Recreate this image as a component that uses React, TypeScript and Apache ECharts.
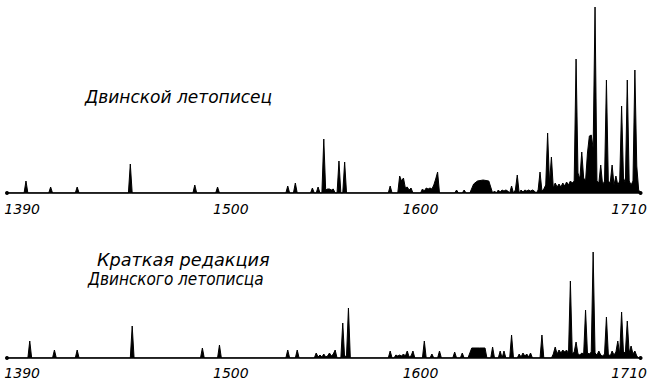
import React, { useEffect, useRef } from "react";
import * as echarts from "echarts";

// Верхняя кривая: Двинской летописец (год, число записей — в условных единицах)
const topYears = [
  1382, 1391, 1392, 1393, 1404, 1405, 1406, 1418, 1419, 1420, 1446, 1447, 1448,
  1480, 1481, 1482, 1492, 1493, 1494, 1529, 1530, 1531, 1533, 1534, 1535,
  1542, 1543, 1544, 1545, 1546, 1547, 1548, 1549, 1550, 1551, 1552, 1553, 1554, 1555,
  1556, 1557, 1558, 1559, 1560, 1561, 1583, 1584, 1585,
  1588, 1589, 1590, 1591, 1592, 1593, 1594, 1595, 1596,
  1600, 1601, 1602, 1603, 1604, 1605, 1606, 1607, 1608, 1609, 1610,
  1618, 1619, 1620, 1622, 1623, 1624, 1626, 1628, 1630, 1633, 1636, 1638,
  1639, 1640, 1641, 1642, 1643, 1644, 1645, 1646, 1647, 1648, 1649, 1650, 1651, 1652,
  1653, 1654, 1655, 1656, 1657, 1658, 1659, 1660, 1661, 1662, 1663, 1664, 1665, 1666,
  1667, 1668, 1669, 1670, 1671, 1672, 1673, 1674, 1675, 1676, 1677, 1678, 1679, 1680,
  1681, 1682, 1683, 1684, 1685, 1686, 1687, 1688, 1689, 1690, 1691, 1692, 1693, 1694,
  1695, 1696, 1697, 1698, 1699, 1700, 1701, 1702, 1703, 1704, 1705, 1706, 1707, 1708,
  1709, 1710, 1711, 1712, 1713, 1714, 1715, 1716,
];
const topCounts = [
  0, 0, 12, 0, 0, 6, 0, 0, 6, 0, 0, 29, 0,
  0, 8, 0, 0, 6, 0, 0, 7, 0, 0, 10, 0,
  0, 5, 0, 0, 6, 0, 0, 54, 3, 4, 4, 3, 4, 0,
  0, 32, 0, 0, 31, 0, 0, 7, 0,
  0, 17, 12, 15, 5, 6, 3, 5, 0,
  0, 4, 2, 5, 4, 5, 4, 8, 14, 21, 0,
  0, 3, 0, 0, 3, 0, 0, 9, 12, 13, 12, 0,
  2, 0, 3, 1, 3, 2, 3, 2, 0, 7, 0, 3, 18, 0,
  3, 1, 3, 2, 3, 2, 3, 2, 0, 3, 21, 2, 4, 8,
  60, 10, 36, 5, 10, 6, 9, 6, 10, 7, 11, 8, 12, 10,
  12, 134, 20, 14, 41, 15, 12, 40, 57, 58, 45, 186, 12, 10,
  28, 8, 12, 113, 12, 10, 28, 8, 17, 8, 12, 87, 15, 10,
  113, 12, 8, 12, 123, 27, 3, 0,
];

// Нижняя кривая: Краткая редакция Двинского летописца
const bottomYears = [
  1382, 1393, 1394, 1395, 1406, 1407, 1408, 1418, 1419, 1420, 1447, 1448, 1449,
  1484, 1485, 1486, 1493, 1494, 1495, 1529, 1530, 1531, 1534, 1535, 1536,
  1544, 1545, 1546, 1547, 1548, 1549, 1550, 1551, 1552, 1553, 1554, 1555, 1556,
  1558, 1559, 1560, 1561, 1562, 1563, 1583, 1584, 1585,
  1586, 1587, 1588, 1589, 1590, 1591, 1592, 1593, 1594, 1595, 1596, 1597,
  1601, 1602, 1603, 1605, 1606, 1607, 1609, 1610, 1611, 1617, 1618, 1619,
  1621, 1622, 1623, 1625, 1627, 1631, 1634, 1635, 1637, 1638, 1639,
  1641, 1642, 1643, 1644, 1645, 1647, 1648, 1649,
  1651, 1652, 1653, 1654, 1655, 1656, 1657, 1658, 1659, 1663, 1664, 1665,
  1669, 1670, 1671, 1672, 1673, 1674, 1675, 1676, 1677, 1678, 1679, 1680,
  1681, 1682, 1683, 1684, 1685, 1686, 1687, 1688, 1689, 1690, 1691, 1692,
  1693, 1694, 1695, 1696, 1697, 1698, 1699, 1700, 1701, 1702, 1703, 1704,
  1705, 1706, 1707, 1708, 1709, 1710, 1711, 1712, 1713, 1714, 1715, 1716,
];
const bottomCounts = [
  0, 0, 17, 0, 0, 8, 0, 0, 8, 0, 0, 32, 0,
  0, 10, 0, 0, 13, 0, 0, 8, 0, 0, 8, 0,
  0, 5, 1, 3, 1, 4, 1, 2, 5, 2, 4, 8, 0,
  0, 35, 0, 3, 50, 0, 0, 7, 0,
  0, 3, 2, 3, 2, 4, 2, 7, 1, 2, 7, 0,
  0, 17, 0, 0, 4, 0, 0, 7, 0, 0, 6, 0,
  0, 5, 0, 0, 10, 10, 10, 0, 0, 11, 0,
  0, 7, 0, 7, 0, 0, 23, 0,
  0, 4, 1, 5, 2, 4, 1, 5, 0, 0, 23, 0,
  0, 4, 11, 4, 8, 5, 8, 6, 8, 4, 77, 4,
  6, 16, 4, 3, 5, 4, 48, 5, 4, 6, 106, 5,
  3, 7, 3, 2, 4, 41, 4, 2, 7, 3, 6, 17,
  4, 46, 5, 6, 37, 5, 12, 4, 7, 2, 0, 0,
];

const tickYears = [1390, 1500, 1600, 1710];

const topTitle = "Двинской летописец";
const bottomTitle1 = "Краткая редакция";
const bottomTitle2 = "Двинского летописца";

const X_MIN = 1382;
const X_MAX = 1716;
const Y_MAX = 186;

export default function App() {
  const ref = useRef<HTMLDivElement>(null);

  useEffect(() => {
    if (!ref.current) return;
    const chart = echarts.init(ref.current, undefined, { renderer: "svg" });

    const pairs = (xs: number[], ys: number[]) => xs.map((x, i) => [x, ys[i]]);

    const xAxisBase = (gridIndex: number, labelMargin: number) => ({
      type: "value" as const,
      gridIndex,
      min: X_MIN,
      max: X_MAX,
      splitLine: { show: false },
      axisTick: { show: false },
      axisLine: {
        show: true,
        onZero: false,
        symbol: ["circle", "circle"],
        symbolSize: [4, 4],
        lineStyle: { color: "#000", width: 1.5 },
      },
      axisLabel: {
        customValues: tickYears,
        margin: labelMargin,
        color: "#000",
        fontFamily: "DejaVu Sans",
        fontStyle: "italic",
        fontSize: 14,
        formatter: (v: number) => String(v),
      },
    });

    const yAxisBase = (gridIndex: number) => ({
      type: "value" as const,
      gridIndex,
      min: 0,
      max: Y_MAX,
      show: false,
    });

    const seriesBase = (idx: number, data: number[][]) => ({
      type: "line" as const,
      xAxisIndex: idx,
      yAxisIndex: idx,
      data,
      symbol: "none",
      showSymbol: false,
      lineStyle: { color: "#000", width: 1 },
      areaStyle: { color: "#000", opacity: 1 },
      silent: true,
    });

    chart.setOption({
      animation: false,
      backgroundColor: "#fff",
      grid: [
        { left: 7, top: 7, width: 636, height: 186 },
        { left: 7, top: 172, width: 636, height: 186 },
      ],
      xAxis: [xAxisBase(0, 9), xAxisBase(1, 8)],
      yAxis: [yAxisBase(0), yAxisBase(1)],
      series: [
        seriesBase(0, pairs(topYears, topCounts)),
        seriesBase(1, pairs(bottomYears, bottomCounts)),
      ],
      graphic: [
        {
          type: "text",
          x: 85,
          y: 88,
          style: {
            text: topTitle,
            fill: "#000",
            font: 'italic 17px "DejaVu Sans"',
          },
        },
        {
          type: "text",
          x: 97,
          y: 252,
          scaleX: 1.04,
          style: {
            text: bottomTitle1,
            fill: "#000",
            font: 'italic 17px "DejaVu Sans"',
          },
        },
        {
          type: "text",
          x: 88,
          y: 271,
          scaleX: 0.9,
          style: {
            text: bottomTitle2,
            fill: "#000",
            font: 'italic 17px "DejaVu Sans"',
          },
        },
      ],
    });

    return () => chart.dispose();
  }, []);

  return (
    <div
      ref={ref}
      style={{ position: "fixed", left: 0, top: 0, width: 650, height: 385 }}
    />
  );
}
